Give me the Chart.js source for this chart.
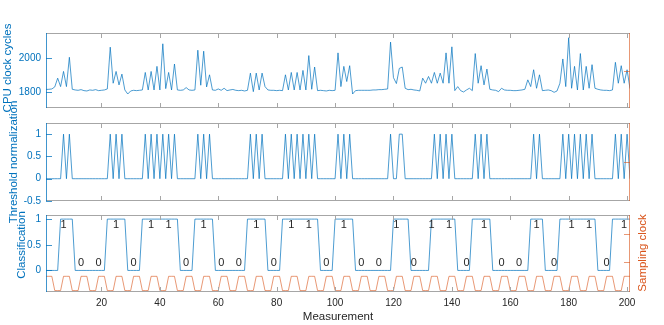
<!DOCTYPE html>
<html>
<head>
<meta charset="utf-8">
<script src="https://cdn.jsdelivr.net/npm/chart.js@4"></script>
<style>
html, body { margin: 0; padding: 0; background: #fff; }
#wrap { position: relative; width: 664px; height: 325px; }
#wrap canvas { position: absolute; left: 0; top: 0; }
</style>
</head>
<body>
<div id="wrap">
  <canvas id="cpuChart" width="664" height="325"></canvas>
  <canvas id="normChart" width="664" height="325"></canvas>
  <canvas id="classChart" width="664" height="325"></canvas>
</div>
<script>
// CPU clock cycles per measurement (1..201)
const cpuCycles = [
  1815,1816,1818,1830,1882,1832,1922,1832,2006,1816,
  1812,1810,1814,1808,1806,1812,1810,1814,1808,1810,
  1812,1818,2066,1852,1922,1842,1906,1812,1788,1806,
  1810,1808,1810,1812,1916,1812,1922,1812,1952,1812,
  2086,1820,1916,1812,1966,1812,1810,1812,1826,1812,
  1810,1812,2048,1840,2042,1830,1902,1812,1810,1818,
  1810,1822,1808,1812,1815,1810,1808,1810,1806,1810,
  1912,1802,1912,1812,1912,1832,1812,1810,1810,1808,
  1810,1808,1902,1812,1916,1812,1916,1812,1928,1812,
  2016,1816,1948,1808,1810,1808,1806,1810,1808,1810,
  2032,1832,1952,1862,1956,1788,1808,1810,1810,1810,
  1810,1810,1812,1812,1814,1814,1816,1818,2096,1885,
  1850,1940,1948,1822,1814,1816,1812,1810,1806,1882,
  1852,1892,1852,1916,1852,1912,1852,2032,1852,2068,
  1808,1832,1808,1800,1812,1822,1808,2028,1852,1956,
  1842,1936,1816,1812,1810,1802,1822,1812,1810,1810,
  1808,1808,1810,1812,1816,1872,1832,1932,1822,1902,
  1808,1810,1812,1808,1798,1806,1852,1996,1832,2122,
  1822,1952,1812,2028,1812,1952,1822,1962,1822,1816,
  1812,1810,1810,1808,1812,1976,1852,1956,1852,1932,
  1820
];

// threshold normalization (0/1)
const thresholdNorm = [
  0,0,0,0,0,0,1,0,1,0, 0,0,0,0,0,0,0,0,0,0,
  0,0,1,0,1,0,1,0,0,0, 0,0,0,0,1,0,1,0,1,0,
  1,0,1,0,1,0,0,0,0,0, 0,0,1,0,1,0,1,0,0,0,
  0,0,0,0,0,0,0,0,0,0, 1,0,1,0,1,0,0,0,0,0,
  0,0,1,0,1,0,1,0,1,0, 1,0,1,0,0,0,0,0,0,0,
  1,0,1,0,1,0,0,0,0,0, 0,0,0,0,0,0,0,0,1,0,
  0,1,1,0,0,0,0,0,0,0, 0,0,0,1,0,1,0,1,0,1,
  0,0,0,0,0,0,0,1,0,1, 0,1,0,0,0,0,0,0,0,0,
  0,0,0,0,0,0,0,1,0,1, 0,0,0,0,0,0,0,1,0,1,
  0,1,0,1,0,1,0,1,0,0, 0,0,0,0,0,1,0,1,0,1,
  0
];

// classification trace (0/1)
const classification = [
  0,0,0,0,0,1,1,1,1,1, 0,0,0,0,0,0,0,0,0,0,
  0,1,1,1,1,1,1,1,0,0, 0,0,0,1,1,1,1,1,1,1,
  1,1,1,1,1,1,0,0,0,0, 0,1,1,1,1,1,1,1,0,0,
  0,0,0,0,0,0,0,0,0,1, 1,1,1,1,1,1,0,0,0,0,
  0,1,1,1,1,1,1,1,1,1, 1,1,1,1,0,0,0,0,0,1,
  1,1,1,1,1,1,0,0,0,0, 0,0,0,0,0,0,0,0,0,1,
  1,1,1,1,1,0,0,0,0,0, 0,0,1,1,1,1,1,1,1,1,
  1,0,0,0,0,0,1,1,1,1, 1,1,1,0,0,0,0,0,0,0,
  0,0,0,0,0,0,1,1,1,1, 1,0,0,0,0,0,1,1,1,1,
  1,1,1,1,1,1,1,1,1,0, 0,0,0,0,1,1,1,1,1,1,
  1
];

// sampling clock (0/1)
const samplingClock = [
  1,1,1,0,0,0,1,1,1,0,0,0, 1,1,1,0,0,0,1,1,1,0,0,0,
  1,1,1,0,0,0,1,1,1,0,0,0, 1,1,1,0,0,0,1,1,1,0,0,0,
  1,1,1,0,0,0,1,1,1,0,0,0, 1,1,1,0,0,0,1,1,1,0,0,0,
  1,1,1,0,0,0,1,1,1,0,0,0, 1,1,1,0,0,0,1,1,1,0,0,0,
  1,1,1,0,0,0,1,1,1,0,0,0, 1,1,1,0,0,0,1,1,1,0,0,0,
  1,1,1,0,0,0,1,1,1,0,0,0, 1,1,1,0,0,0,1,1,1,0,0,0,
  1,1,1,0,0,0,1,1,1,0,0,0, 1,1,1,0,0,0,1,1,1,0,0,0,
  1,1,1,0,0,0,1,1,1,0,0,0, 1,1,1,0,0,0,1,1,1,0,0,0,
  1,1,1,0,0,0,1,1,1
];

// class labels written above each sampling window
const labelPos = [7,13,19,25,31,37,43,49,55,61,67,73,79,85,91,97,103,
  109,115,121,127,133,139,145,151,157,163,169,175,181,187,193,199];
const labelVal = [1,0,0,1,0,1,1,0,1,0,0,1,0,1,1,0,1,
  0,0,1,0,1,1,0,1,0,0,1,0,1,1,0,1];

const xTicks = [20,40,60,80,100,120,140,160,180,200];

const blue = 'rgb(0,114,189)';
const orange = 'rgb(217,83,25)';
const measurement = cpuCycles.map((_, i) => i + 1);

Chart.defaults.font.family = '"Liberation Sans", Arial, Helvetica, sans-serif';
Chart.defaults.font.size = 10;

// matlab-like box with inward ticks, extra texts
const boxPlugin = {
  id: 'box',
  afterDatasetsDraw(chart, args, opts) {
    const ctx = chart.ctx;
    const a = chart.chartArea;
    const sx = chart.scales.x, sy = chart.scales.y, sy2 = chart.scales.y2;
    ctx.save();
    ctx.lineWidth = 1;
    // top / bottom edges
    ctx.strokeStyle = '#a6a6a6';
    ctx.beginPath();
    ctx.moveTo(a.left, a.top + 0.5); ctx.lineTo(a.right, a.top + 0.5);
    ctx.moveTo(a.left, a.bottom - 0.5); ctx.lineTo(a.right, a.bottom - 0.5);
    xTicks.forEach(v => {
      const px = Math.round(sx.getPixelForValue(v)) + 0.5;
      ctx.moveTo(px, a.top); ctx.lineTo(px, a.top + 5);
      ctx.moveTo(px, a.bottom); ctx.lineTo(px, a.bottom - 5);
    });
    ctx.stroke();
    // left axis
    ctx.strokeStyle = 'rgba(0,114,189,0.75)';
    ctx.beginPath();
    ctx.moveTo(a.left + 0.5, a.top); ctx.lineTo(a.left + 0.5, a.bottom);
    opts.leftTicks.forEach(v => {
      const py = Math.round(sy.getPixelForValue(v)) + 0.5;
      ctx.moveTo(a.left, py); ctx.lineTo(a.left + 6, py);
    });
    ctx.stroke();
    // right axis
    ctx.strokeStyle = 'rgba(217,83,25,0.6)';
    ctx.beginPath();
    ctx.moveTo(a.right - 0.5, a.top); ctx.lineTo(a.right - 0.5, a.bottom);
    opts.rightTicks.forEach(v => {
      const py = Math.round(sy2.getPixelForValue(v)) + 0.5;
      ctx.moveTo(a.right, py); ctx.lineTo(a.right - 6, py);
    });
    ctx.stroke();
    // class labels
    if (opts.labels) {
      ctx.fillStyle = '#262626';
      ctx.font = '11px "Liberation Sans", Arial, sans-serif';
      ctx.textAlign = 'center';
      ctx.textBaseline = 'middle';
      labelPos.forEach((p, i) => {
        const v = labelVal[i];
        const px = sx.getPixelForValue(p);
        const py = sy.getPixelForValue(v) + (v === 1 ? 6 : -7);
        ctx.fillText(String(v), px, py);
      });
    }
    // axis titles
    (opts.titles || []).forEach(t => {
      ctx.save();
      ctx.translate(t.x, t.y);
      ctx.rotate(-Math.PI / 2);
      ctx.fillStyle = t.color;
      ctx.font = '11.5px "Liberation Sans", Arial, sans-serif';
      ctx.textAlign = 'center';
      ctx.textBaseline = 'middle';
      ctx.fillText(t.text, 0, 0);
      ctx.restore();
    });
    ctx.restore();
  }
};

function makePanel(id, p) {
  const xScale = {
    type: 'linear', min: 1, max: 201,
    display: !!p.showX,
    grid: { display: false, drawTicks: false },
    border: { display: false },
    afterBuildTicks: s => { s.ticks = xTicks.map(v => ({ value: v })); },
    afterFit: s => { if (p.showX) s.height = 325 - p.bottom; },
    ticks: {
      color: '#262626', padding: 5, maxRotation: 0, autoSkip: false,
      font: { size: 10 }, callback: v => String(v)
    },
    title: {
      display: !!p.showX, text: 'Measurement', color: '#262626',
      font: { size: 11.5 }, padding: { top: 0, bottom: 1 }
    }
  };
  return new Chart(document.getElementById(id), {
    type: 'line',
    data: { datasets: p.datasets },
    options: {
      responsive: false,
      animation: false,
      events: [],
      layout: {
        padding: { left: 0, right: 34, top: p.top, bottom: p.showX ? 0 : 325 - p.bottom }
      },
      scales: {
        x: xScale,
        y: {
          min: p.yMin, max: p.yMax,
          grid: { display: false, drawTicks: false },
          border: { display: false },
          afterBuildTicks: s => { s.ticks = p.yTicks.map(v => ({ value: v })); },
          afterFit: s => { s.width = 46; },
          ticks: { color: blue, padding: 5, font: { size: 10 }, callback: v => String(v) }
        },
        y2: {
          position: 'right', display: false,
          min: p.y2Min, max: p.y2Max
        }
      },
      plugins: {
        legend: { display: false },
        tooltip: { enabled: false },
        box: {
          leftTicks: p.yTicks, rightTicks: p.y2Ticks,
          labels: !!p.labels, titles: p.titles
        }
      }
    },
    plugins: [boxPlugin]
  });
}

function series(values, color, axis) {
  return {
    data: values.map((v, i) => ({ x: measurement[i], y: v })),
    yAxisID: axis,
    borderColor: color,
    borderWidth: 1,
    pointRadius: 0,
    tension: 0,
    fill: false
  };
}

makePanel('cpuChart', {
  top: 33, bottom: 108,
  yMin: 1705, yMax: 2150, yTicks: [1800, 2000],
  y2Min: 0, y2Max: 1, y2Ticks: [0.5],
  datasets: [series(cpuCycles, 'rgba(0,114,189,0.7)', 'y')],
  titles: [{ text: 'CPU clock cycles', x: 8, y: 68, color: blue }]
});

makePanel('normChart', {
  top: 123, bottom: 201,
  yMin: -0.5, yMax: 1.25, yTicks: [-0.5, 0, 0.5, 1],
  y2Min: 0, y2Max: 1, y2Ticks: [0.5],
  datasets: [series(thresholdNorm, 'rgba(0,114,189,0.7)', 'y')],
  titles: [{ text: 'Threshold normalization', x: 14, y: 162, color: blue }]
});

makePanel('classChart', {
  top: 215, bottom: 292, showX: true, labels: true,
  yMin: -0.42, yMax: 1.08, yTicks: [0, 0.5, 1],
  y2Min: -0.1, y2Max: 5.3, y2Ticks: [2, 4],
  datasets: [
    series(classification, 'rgba(0,114,189,0.7)', 'y'),
    series(samplingClock, 'rgba(217,83,25,0.6)', 'y2')
  ],
  titles: [
    { text: 'Classification', x: 22, y: 245, color: blue },
    { text: 'Sampling clock', x: 643, y: 253, color: orange }
  ]
});
</script>
</body>
</html>
